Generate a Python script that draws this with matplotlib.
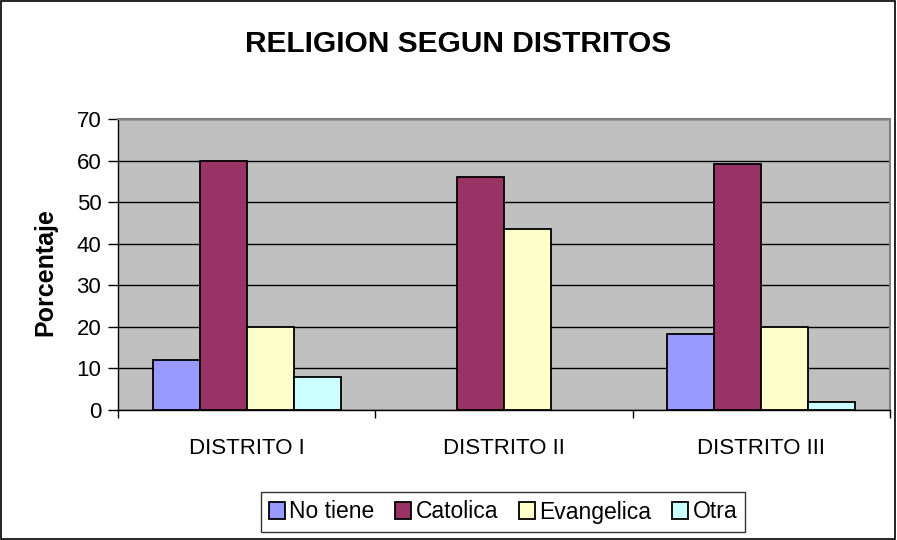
import matplotlib
matplotlib.use("Agg")
import matplotlib.pyplot as plt
import numpy as np
from matplotlib.patches import Rectangle

plt.rcParams['font.family'] = ['Liberation Sans', 'DejaVu Sans']

categories = ["DISTRITO I", "DISTRITO II", "DISTRITO III"]
series_names = ["No tiene", "Catolica", "Evangelica", "Otra"]
no_tiene = [12, 0, 18.2]
catolica = [60, 56.1, 59.2]
evangelica = [20, 43.5, 20]
otra = [8, 0, 2]
colors = ["#9999FF", "#993366", "#FFFFCC", "#CCFFFF"]
yticks = [0, 10, 20, 30, 40, 50, 60, 70]

fig = plt.figure(figsize=(8.97, 5.40), dpi=100)
ax = fig.add_axes([118/897, 1 - 410/540, (890-118)/897, (410-119)/540])
ax.set_facecolor("#C0C0C0")

x = np.arange(len(categories))
bw = 0.1827
data = [no_tiene, catolica, evangelica, otra]
for i, (vals, c, name) in enumerate(zip(data, colors, series_names)):
    vals = np.asarray(vals, dtype=float)
    mask = vals > 0
    ax.bar((x + (i - 1.5) * bw)[mask], vals[mask], width=bw, color=c,
           edgecolor="black", linewidth=1.3, label=name, zorder=3)

ax.set_xlim(-0.5, 2.5)
ax.set_ylim(0, 70)
ax.set_yticks(yticks)
ax.set_yticklabels([str(v) for v in yticks], fontsize=16)
ax.yaxis.grid(True, color="black", linewidth=1.0, zorder=0)
ax.set_axisbelow(True)

ax.set_xticks(x)
ax.set_xticklabels(categories, fontsize=16)
ax.tick_params(axis="x", length=0, pad=20)
ax.set_xticks([-0.5, 0.5, 1.5, 2.5], minor=True)
ax.tick_params(axis="x", which="minor", length=6, width=1, color="black", direction="out")
ax.tick_params(axis="y", length=7, width=1, color="black", direction="out", pad=5)

for s in ["top", "right"]:
    ax.spines[s].set_color("#808080")
    ax.spines[s].set_linewidth(1.5)
for s in ["left", "bottom"]:
    ax.spines[s].set_color("black")
    ax.spines[s].set_linewidth(1.0)

fig.text(45/897, 1 - 272/540, "Porcentaje", fontsize=18, fontweight="bold",
         rotation=90, ha="center", va="center")

fig.text(458/897, 1 - 44/540, "RELIGION SEGUN DISTRITOS", fontsize=21.5,
         fontweight="bold", ha="center", va="center")

leg = fig.legend(loc="center", bbox_to_anchor=(503/897, 1 - 512/540), ncol=4,
                 fontsize=16.5, frameon=True, fancybox=False, edgecolor="black",
                 handlelength=0.7, handleheight=0.7, handletextpad=0.2,
                 columnspacing=0.9, borderpad=0.35)
leg.get_frame().set_linewidth(1.0)

fig.patches.append(Rectangle((0.001, 0.001), 0.997, 0.997, transform=fig.transFigure,
                             fill=False, edgecolor="black", linewidth=1.2))

fig.savefig("out.png", dpi=100)
